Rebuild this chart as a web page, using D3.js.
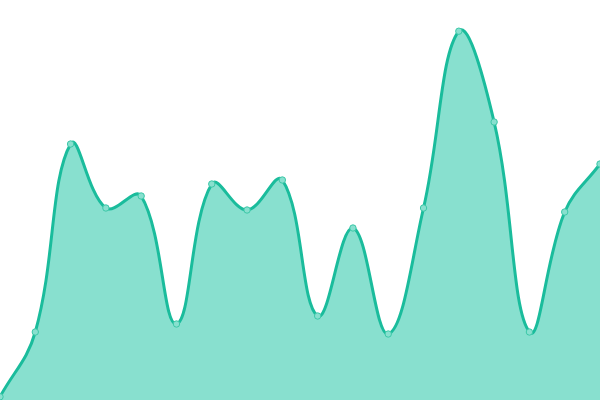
<!DOCTYPE html>
<html>
<head>
<meta charset="utf-8">
<script src="https://cdn.jsdelivr.net/npm/d3@7"></script>
<style>
body { margin: 0; background: #fff; }
svg { display: block; }
</style>
</head>
<body>
<div id="chart"></div>
<script>
var width = 600;
var height = 400;

// valores
var indices = [0, 1, 2, 3, 4, 5, 6, 7, 8, 9, 10, 11, 12, 13, 14, 15, 16, 17];
var valores = [0.8, 17, 64, 48, 51, 19, 54, 47.5, 55, 21, 43, 16.5, 48, 92.2, 69.5, 17, 47, 59];

var svgContainer = d3.select("#chart").append("svg")
	.attr("width", width)
	.attr("height", height);

var x = d3.scaleLinear()
	.domain([0, indices.length - 1])
	.range([0, width]);

var y = d3.scaleLinear()
	.domain([0, 100])
	.range([height, 0]);

var dados = indices.map(function(i){ return {i: i, v: valores[i]}; });

// curva com pesos pela distancia entre pontos (tensao 0.4)
function CurvaSuave(context){ this._context = context; }
CurvaSuave.prototype = {
	areaStart: function(){ this._line = 0; },
	areaEnd: function(){ this._line = NaN; },
	lineStart: function(){ this._pts = []; },
	point: function(px, py){ this._pts.push([+px, +py]); },
	lineEnd: function(){
		var p = this._pts, n = p.length, t = 0.4, c = this._context;
		var ctrl = [];
		function clamp(q){ return [Math.max(0, Math.min(width, q[0])), Math.max(0, Math.min(height, q[1]))]; }
		for (var i = 0; i < n; i++){
			var a = p[Math.max(0, i - 1)], m = p[i], b = p[Math.min(n - 1, i + 1)];
			var d01 = Math.hypot(m[0] - a[0], m[1] - a[1]);
			var d12 = Math.hypot(b[0] - m[0], b[1] - m[1]);
			var s = d01 + d12 || 1;
			var fa = t * d01 / s, fb = t * d12 / s;
			ctrl.push({
				prev: clamp([m[0] - fa * (b[0] - a[0]), m[1] - fa * (b[1] - a[1])]),
				next: clamp([m[0] + fb * (b[0] - a[0]), m[1] + fb * (b[1] - a[1])])
			});
		}
		if (n){
			if (this._line) c.lineTo(p[0][0], p[0][1]); else c.moveTo(p[0][0], p[0][1]);
			for (var j = 1; j < n; j++){
				c.bezierCurveTo(ctrl[j - 1].next[0], ctrl[j - 1].next[1], ctrl[j].prev[0], ctrl[j].prev[1], p[j][0], p[j][1]);
			}
		}
		if (this._line || (this._line !== 0 && n === 1)) c.closePath();
		this._line = 1 - this._line;
	}
};
function curvaSuave(context){ return new CurvaSuave(context); }

var area = d3.area()
	.x(function(d){ return x(d.i); })
	.y0(height)
	.y1(function(d){ return y(d.v); })
	.curve(curvaSuave);

var linha = d3.line()
	.x(function(d){ return x(d.i); })
	.y(function(d){ return y(d.v); })
	.curve(curvaSuave);

svgContainer.append("path")
	.datum(dados)
	.attr("d", area)
	.style("fill", "#88e0cf");

svgContainer.append("path")
	.datum(dados)
	.attr("d", linha)
	.style("fill", "none")
	.style("stroke", "#1abc9c")
	.style("stroke-width", 3);

svgContainer.selectAll("circle")
	.data(dados)
	.enter()
	.append("circle")
	.attr("cx", function(d){ return x(d.i); })
	.attr("cy", function(d){ return y(d.v); })
	.attr("r", 3.2)
	.style("fill", "#88e0cf")
	.style("stroke", "#3cc8a8")
	.style("stroke-width", 1);
</script>
</body>
</html>
